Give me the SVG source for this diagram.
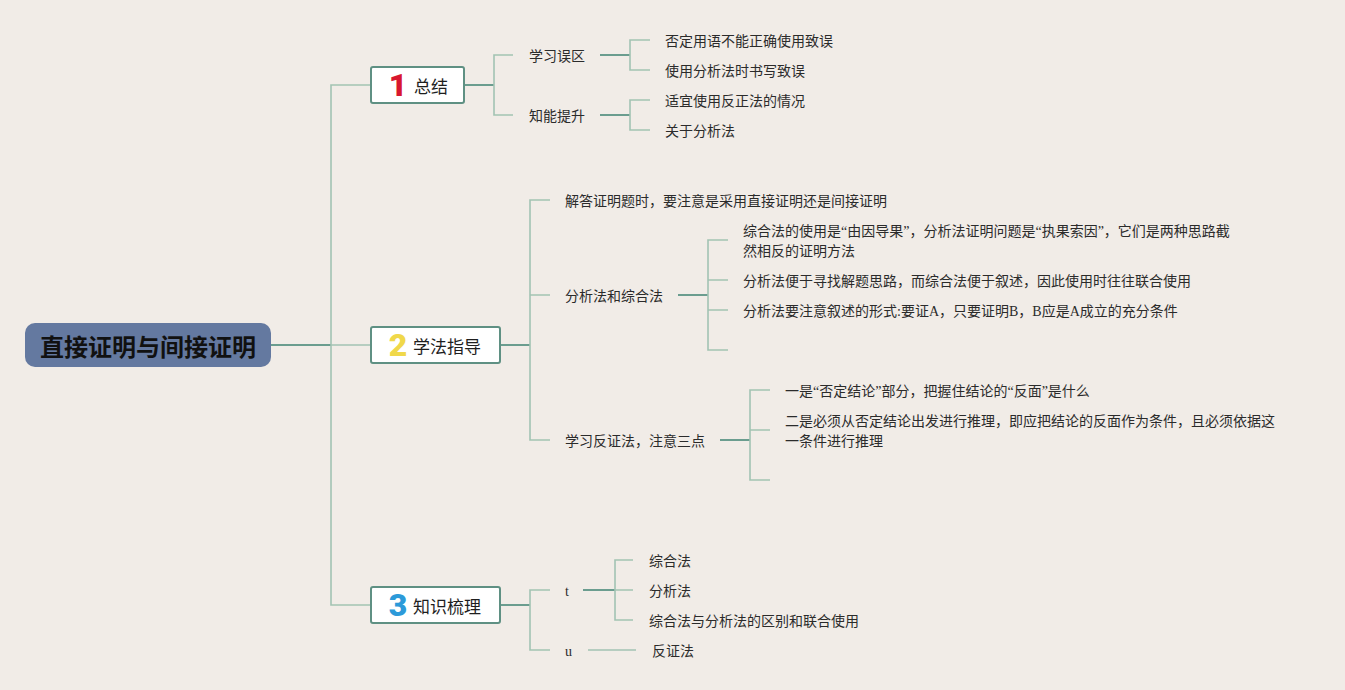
<svg xmlns="http://www.w3.org/2000/svg" width="1345" height="690" viewBox="0 0 1345 690">
<style>
.bg{fill:#f1ece7}
.lt{fill:none;stroke:#a2c3b3;stroke-width:1.6}
.dk{fill:none;stroke:#6b9d8f;stroke-width:2}
.box{fill:#ffffff;stroke:#5f9083;stroke-width:2}
.t{font-family:"Liberation Serif","Noto Sans CJK SC",serif;font-size:14px;fill:#2b2b2b;dominant-baseline:central}
.h{font-family:"Noto Sans CJK SC",sans-serif;font-size:17px;fill:#1e1e1e;dominant-baseline:central}
.n{font-family:"Roboto","Noto Sans",sans-serif;font-weight:900;font-size:32px;text-anchor:middle;dominant-baseline:central}
.root{font-family:"Noto Sans CJK SC",sans-serif;font-weight:700;font-size:24px;fill:#111;text-anchor:middle;dominant-baseline:central}
</style>
<rect class="bg" x="0" y="0" width="1345" height="690"/>
<g id="connectors">
<path class="dk" d="M270 345 H331"/>
<path class="lt" d="M371 85 H331 V605 H371"/>
<path class="lt" d="M331 345 H371"/>
<path class="dk" d="M464 85 H494"/>
<path class="lt" d="M513 55 H494 V115 H513"/>
<path class="dk" d="M600 55 H630"/>
<path class="lt" d="M650 40 H630 V70 H650"/>
<path class="dk" d="M600 115 H630"/>
<path class="lt" d="M650 100 H630 V130 H650"/>
<path class="dk" d="M500 345 H530"/>
<path class="lt" d="M550 200 H530 V440 H550 M530 295 H550"/>
<path class="dk" d="M678 295 H708"/>
<path class="lt" d="M728 240 H708 V350 H728 M708 280 H728 M708 310 H728"/>
<path class="dk" d="M720 440 H750"/>
<path class="lt" d="M770 390 H750 V480 H770 M750 430 H770"/>
<path class="dk" d="M500 605 H530"/>
<path class="lt" d="M550 590 H530 V650 H550"/>
<path class="dk" d="M583 590 H615"/>
<path class="lt" d="M633 560 H615 V620 H633 M615 590 H633"/>
<path class="lt" d="M588 650 H636"/>
</g>
<g id="root">
<rect x="25" y="323" width="246" height="44" rx="10" fill="#6479a0"/>
<text class="root" x="148" y="345">直接证明与间接证明</text>
</g>
<g id="node1">
<rect class="box" x="371" y="67" width="93" height="36" rx="2"/>
<text class="n" x="398" y="85" fill="#d8172f">1</text>
<text class="h" x="414" y="85">总结</text>
</g>
<g id="node2">
<rect class="box" x="371" y="327" width="129" height="36" rx="2"/>
<text class="n" x="398" y="345" fill="#f0d84a">2</text>
<text class="h" x="413" y="345">学法指导</text>
</g>
<g id="node3">
<rect class="box" x="371" y="587" width="129" height="36" rx="2"/>
<text class="n" x="398" y="605" fill="#2c9ad9">3</text>
<text class="h" x="413" y="605">知识梳理</text>
</g>
<g id="n1a"><text class="t" x="529" y="56">学习误区</text></g>
<g id="n1a1"><text class="t" x="665" y="41">否定用语不能正确使用致误</text></g>
<g id="n1a2"><text class="t" x="665" y="71">使用分析法时书写致误</text></g>
<g id="n1b"><text class="t" x="529" y="116">知能提升</text></g>
<g id="n1b1"><text class="t" x="665" y="101">适宜使用反正法的情况</text></g>
<g id="n1b2"><text class="t" x="665" y="131">关于分析法</text></g>
<g id="n2a"><text class="t" x="565" y="201">解答证明题时，要注意是采用直接证明还是间接证明</text></g>
<g id="n2b"><text class="t" x="565" y="296">分析法和综合法</text></g>
<g id="n2b1"><text class="t" x="743" y="231">综合法的使用是“由因导果”，分析法证明问题是“执果索因”，它们是两种思路截</text><text class="t" x="743" y="251">然相反的证明方法</text></g>
<g id="n2b2"><text class="t" x="743" y="281">分析法便于寻找解题思路，而综合法便于叙述，因此使用时往往联合使用</text></g>
<g id="n2b3"><text class="t" x="743" y="311">分析法要注意叙述的形式:要证A，只要证明B，B应是A成立的充分条件</text></g>
<g id="n2c"><text class="t" x="565" y="441">学习反证法，注意三点</text></g>
<g id="n2c1"><text class="t" x="785" y="391">一是“否定结论”部分，把握住结论的“反面”是什么</text></g>
<g id="n2c2"><text class="t" x="785" y="421">二是必须从否定结论出发进行推理，即应把结论的反面作为条件，且必须依据这</text><text class="t" x="785" y="441">一条件进行推理</text></g>
<g id="n3a"><text class="t" x="565" y="591">t</text></g>
<g id="n3a1"><text class="t" x="649" y="561">综合法</text></g>
<g id="n3a2"><text class="t" x="649" y="591">分析法</text></g>
<g id="n3a3"><text class="t" x="649" y="621">综合法与分析法的区别和联合使用</text></g>
<g id="n3b"><text class="t" x="565" y="651">u</text></g>
<g id="n3b1"><text class="t" x="652" y="651">反证法</text></g>
</svg>
